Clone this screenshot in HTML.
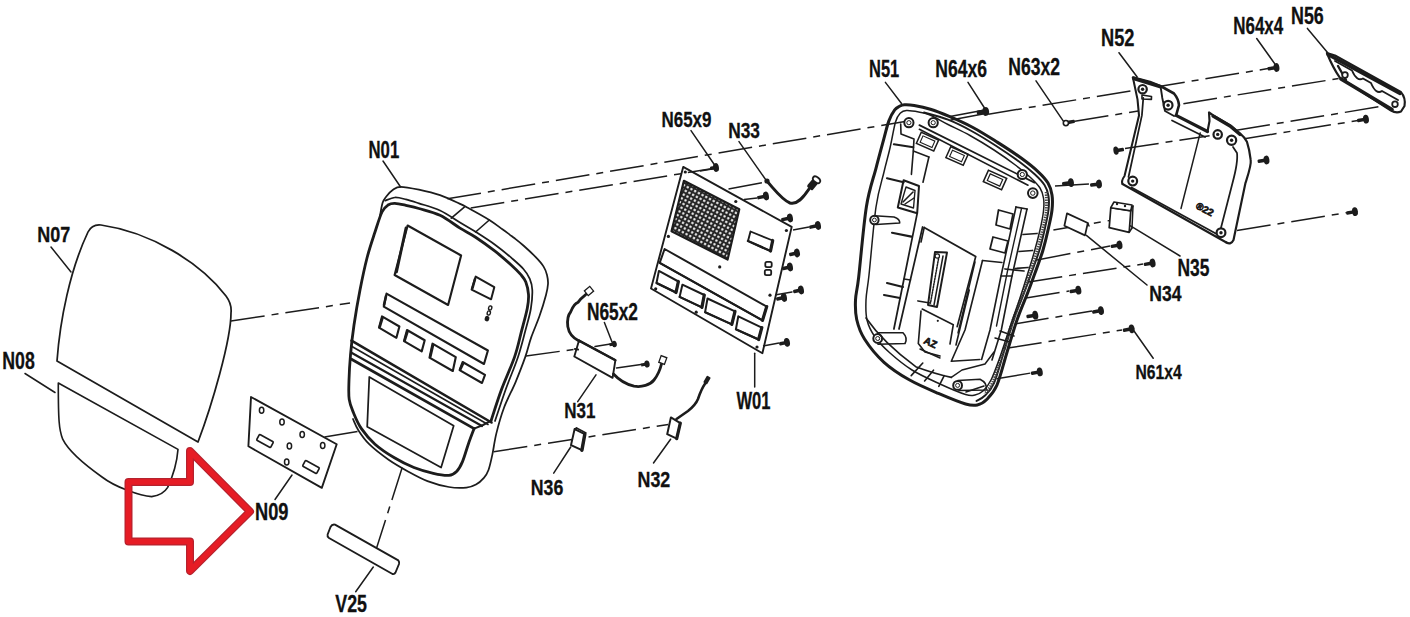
<!DOCTYPE html>
<html><head><meta charset="utf-8"><style>
html,body{margin:0;padding:0;background:#fff;width:1410px;height:617px;overflow:hidden}
svg{display:block}
text{font-family:"Liberation Sans",sans-serif;font-weight:bold;fill:#111;stroke:#111;stroke-width:0.3px}
</style></head><body>
<svg width="1410" height="617" viewBox="0 0 1410 617">
<rect width="1410" height="617" fill="#fff"/>
<path d="M57,361 C60,320 70,270 88,232 Q92,224 101,225 C150,232 200,262 226,296 Q232,304 231,313 C231,340 212,405 198,442 Z" stroke="#1c1c1c" stroke-width="1.75" fill="none" stroke-linejoin="round" stroke-linecap="round" />
<path d="M58.3,383 L178,449.4 C177,462 172,478 167.7,487.3 Q163,495 151.7,496.6 C140,496 115,487 102,477 C85,465 68,450 62.7,439.2 C59,430 58.3,420 58.3,383 Z" stroke="#1c1c1c" stroke-width="1.62" fill="none" stroke-linejoin="round" stroke-linecap="round" />
<path d="M251,397 L336.7,444.2 L321.8,487.9 L248.4,446.3 Z" stroke="#1c1c1c" stroke-width="1.88" fill="none" stroke-linejoin="round"/>
<ellipse cx="261.6" cy="410.3" rx="2.2" ry="3" stroke="#1c1c1c" stroke-width="1.5" fill="none"/>
<ellipse cx="282" cy="422" rx="2.2" ry="3" stroke="#1c1c1c" stroke-width="1.5" fill="none"/>
<ellipse cx="302.2" cy="434.4" rx="2.2" ry="3" stroke="#1c1c1c" stroke-width="1.5" fill="none"/>
<ellipse cx="322.7" cy="445.6" rx="2.2" ry="3" stroke="#1c1c1c" stroke-width="1.5" fill="none"/>
<ellipse cx="289.4" cy="446" rx="2.2" ry="3" stroke="#1c1c1c" stroke-width="1.5" fill="none"/>
<ellipse cx="286.7" cy="462" rx="2.2" ry="3" stroke="#1c1c1c" stroke-width="1.5" fill="none"/>
<rect x="257" y="437.8" width="16" height="6.4" rx="1" transform="rotate(29 265 441)" stroke="#1c1c1c" stroke-width="1.7" fill="none"/>
<rect x="303" y="463.8" width="16" height="6.4" rx="1" transform="rotate(29 311 467)" stroke="#1c1c1c" stroke-width="1.7" fill="none"/>
<path d="M380.0,216.0 C380.4,213.8 381.5,206.0 382.6,202.7 C383.7,199.4 384.8,198.4 386.5,196.2 C388.2,194.0 390.6,191.3 393.0,189.7 C395.4,188.1 396.4,186.8 400.7,186.8 C405.0,186.8 412.3,188.3 418.9,189.7 C425.4,191.1 433.2,192.9 440.0,195.2 C446.8,197.5 454.5,201.3 459.5,203.6 C464.5,205.9 465.0,206.3 470.0,209.0 C475.0,211.7 483.9,216.6 489.3,220.0 C494.7,223.4 499.0,226.8 502.4,229.2 C505.8,231.6 507.6,233.1 509.6,234.6 C511.6,236.1 512.3,236.5 514.6,238.3 C516.9,240.1 519.9,242.4 523.4,245.5 C526.9,248.6 532.1,253.4 535.5,256.9 C538.9,260.4 541.7,263.6 543.6,266.6 C545.5,269.6 546.3,272.1 547.0,275.0 C547.7,277.9 548.2,280.7 548.0,284.0 C547.8,287.3 547.4,289.7 546.0,295.0 C544.6,300.3 542.0,308.9 539.5,316.0 C537.0,323.1 533.6,330.6 531.2,337.4 C528.8,344.2 527.9,349.5 525.3,356.9 C522.7,364.3 519.2,373.3 515.7,381.8 C512.2,390.3 507.2,399.1 504.0,407.7 C500.8,416.3 498.2,425.8 496.3,433.6 C494.4,441.4 493.7,448.3 492.4,454.4 C491.1,460.5 489.9,466.1 488.5,470.0 C487.1,473.9 486.0,475.4 483.9,477.8 C481.8,480.2 478.9,482.9 476.0,484.5 C473.1,486.1 470.9,487.2 466.4,487.6 C461.9,488.0 455.4,488.1 448.9,487.0 C442.4,485.9 434.3,483.7 427.5,481.1 C420.7,478.5 414.5,475.0 408.0,471.4 C401.5,467.8 395.1,464.2 388.6,459.7 C382.1,455.2 374.2,449.1 369.2,444.2 C364.2,439.3 361.2,434.7 358.5,430.5 C355.8,426.3 353.9,420.9 353.0,419.0" stroke="#1c1c1c" stroke-width="1.75" fill="none" stroke-linejoin="round" stroke-linecap="round" />
<path d="M385.2,200.6 C386.8,200.1 391.4,197.7 394.9,197.5 C398.3,197.3 401.9,198.4 405.9,199.4 C409.9,200.4 413.2,201.5 418.9,203.3 C424.6,205.2 433.1,207.3 440.0,210.5 C446.9,213.7 454.1,218.9 460.0,222.5 C465.9,226.1 469.8,228.1 475.6,231.8 C481.4,235.5 489.1,240.4 495.0,244.7 C500.9,249.0 506.5,253.6 511.2,257.7 C515.9,261.8 520.3,265.5 523.4,269.0 C526.5,272.5 528.3,275.3 529.8,278.8 C531.3,282.3 532.1,285.0 532.3,290.0 C532.5,295.0 532.0,302.0 530.8,309.0 C529.6,316.0 527.1,324.0 525.0,332.0 C522.9,340.0 521.2,347.3 518.0,357.0 C514.8,366.7 509.3,379.3 505.5,390.0 C501.7,400.7 496.8,415.8 495.0,421.0" stroke="#1c1c1c" stroke-width="1.75" fill="none" stroke-linejoin="round" stroke-linecap="round" />
<path d="M491.1,420.7 C492.8,415.5 497.6,400.2 501.5,389.6 C505.4,379.0 511.3,366.6 514.6,356.9 C517.9,347.2 519.3,339.7 521.4,331.6 C523.5,323.5 526.1,314.4 527.3,308.2 C528.5,302.0 528.8,298.9 528.5,294.5 C528.2,290.1 527.1,285.3 525.8,282.0 C524.5,278.7 523.3,277.5 520.9,274.7 C518.5,271.9 515.5,268.9 511.2,265.0 C506.9,261.1 500.9,255.8 495.0,251.2 C489.1,246.6 481.4,241.0 475.6,237.2 C469.8,233.3 465.9,231.8 460.0,228.1 C454.1,224.4 446.9,218.6 440.0,215.3 C433.1,212.0 424.6,210.2 418.9,208.5 C413.2,206.8 409.9,206.2 405.9,205.3 C401.9,204.4 397.9,203.4 394.9,203.3 C391.9,203.2 390.1,203.6 388.0,205.0 C385.9,206.4 384.2,207.5 382.0,212.0 C379.8,216.5 377.5,224.3 375.0,232.0 C372.5,239.7 369.5,248.3 367.0,258.0 C364.5,267.7 362.2,278.8 360.0,290.0 C357.8,301.2 355.6,314.2 354.0,325.0 C352.4,335.8 351.3,345.8 350.5,355.0 C349.7,364.2 349.2,372.6 349.0,380.0 C348.8,387.4 348.4,393.9 349.2,399.4 C350.0,404.9 351.6,408.1 353.6,413.0 C355.6,417.9 357.8,423.4 361.4,428.6 C365.0,433.8 369.5,439.3 375.0,444.2 C380.5,449.1 387.9,453.9 394.4,457.8 C400.9,461.7 407.4,464.9 413.9,467.5 C420.4,470.1 427.5,472.0 433.3,473.3 C439.1,474.6 445.0,475.6 448.9,475.3 C452.8,475.0 454.3,473.7 456.6,471.4 C458.9,469.1 460.6,466.1 462.5,461.6 C464.4,457.1 466.4,449.7 468.3,444.2 C470.2,438.7 473.1,431.2 474.1,428.6" stroke="#1c1c1c" stroke-width="2.81" fill="none" stroke-linejoin="round" stroke-linecap="round" />
<line x1="464.3" y1="207.2" x2="451.3" y2="218.2" stroke="#1c1c1c" stroke-width="1.62" stroke-linecap="round"/>
<line x1="489.3" y1="220" x2="475.6" y2="232" stroke="#1c1c1c" stroke-width="1.62" stroke-linecap="round"/>
<path d="M407.6,225.5 L461.1,255.5 L448.1,305 L394.6,275 Z" stroke="#1c1c1c" stroke-width="2.12" fill="none" stroke-linejoin="round"/>
<line x1="406" y1="228" x2="396.5" y2="272" stroke="#1c1c1c" stroke-width="2.81" stroke-linecap="round"/>
<path d="M475.7,276.6 L494.3,287.2 L491.1,299.3 L471.6,289.6 Z" stroke="#1c1c1c" stroke-width="2.0" fill="none" stroke-linejoin="round"/>
<line x1="475" y1="279" x2="472.5" y2="288" stroke="#1c1c1c" stroke-width="2.59" stroke-linecap="round"/>
<ellipse cx="490.2" cy="308" rx="1.6" ry="2.1" stroke="#1c1c1c" stroke-width="1.4" fill="none" transform="rotate(15 490.2 308)"/>
<ellipse cx="488.8" cy="313" rx="1.6" ry="2.1" stroke="#1c1c1c" stroke-width="1.4" fill="none" transform="rotate(15 488.8 313)"/>
<ellipse cx="487" cy="318.6" rx="1.6" ry="2.1" stroke="#1c1c1c" stroke-width="1.4" fill="#1c1c1c" transform="rotate(15 487 318.6)"/>
<path d="M386.5,293.6 L487.9,350.5 L484,364 L383.8,306.7 Z" stroke="#1c1c1c" stroke-width="2.12" fill="none" stroke-linejoin="round"/>
<line x1="386" y1="296" x2="384" y2="305" stroke="#1c1c1c" stroke-width="2.59" stroke-linecap="round"/>
<path d="M382,316.4 L399.4,326.52 L396.4,337.8 L379,327.68 Z" stroke="#1c1c1c" stroke-width="2.12" fill="none" stroke-linejoin="round"/>
<line x1="382.5" y1="317.9" x2="379.8" y2="326.68" stroke="#1c1c1c" stroke-width="2.59" stroke-linecap="round"/>
<path d="M407,330 L424.7,340.28499999999997 L421.7,351.4 L404,341.115 Z" stroke="#1c1c1c" stroke-width="2.12" fill="none" stroke-linejoin="round"/>
<line x1="407.5" y1="331.5" x2="404.8" y2="340.115" stroke="#1c1c1c" stroke-width="2.59" stroke-linecap="round"/>
<path d="M432.5,343.7 L455.8,357.065 L452.8,371 L429.5,357.635 Z" stroke="#1c1c1c" stroke-width="2.12" fill="none" stroke-linejoin="round"/>
<line x1="433.0" y1="345.2" x2="430.3" y2="356.635" stroke="#1c1c1c" stroke-width="2.59" stroke-linecap="round"/>
<path d="M462.6,362 L485,374.87 L482,383 L459.6,370.13 Z" stroke="#1c1c1c" stroke-width="2.12" fill="none" stroke-linejoin="round"/>
<line x1="463.1" y1="363.5" x2="460.40000000000003" y2="369.13" stroke="#1c1c1c" stroke-width="2.59" stroke-linecap="round"/>
<path d="M351.5,340.7 L491.5,422.5" stroke="#1c1c1c" stroke-width="2.59" fill="none" stroke-linejoin="round" stroke-linecap="round" />
<path d="M351.5,346.2 L488,424.5" stroke="#1c1c1c" stroke-width="1.62" fill="none" stroke-linejoin="round" stroke-linecap="round" />
<path d="M351.5,352.8 L482,426" stroke="#1c1c1c" stroke-width="2.16" fill="none" stroke-linejoin="round" stroke-linecap="round" />
<path d="M351.5,359.2 L474.1,428.6" stroke="#1c1c1c" stroke-width="2.81" fill="none" stroke-linejoin="round" stroke-linecap="round" />
<path d="M474.1,428.6 L483,425 L491.1,420.7" stroke="#1c1c1c" stroke-width="2.0" fill="none" stroke-linejoin="round" stroke-linecap="round" />
<path d="M369.3,377 L453.7,425.7 L441.1,467.5 L367.2,426.7 Z" stroke="#1c1c1c" stroke-width="1.75" fill="none" stroke-linejoin="round"/>
<line x1="231" y1="321" x2="350" y2="303" stroke="#1c1c1c" stroke-width="1.5" stroke-dasharray="34 7 7 7"/>
<line x1="324.5" y1="437" x2="357.5" y2="431.5" stroke="#1c1c1c" stroke-width="1.5" stroke-dasharray="34 7 7 7"/>
<line x1="447.4" y1="198.8" x2="908" y2="121" stroke="#1c1c1c" stroke-width="1.5" stroke-dasharray="34 7 7 7"/>
<line x1="470.7" y1="207.9" x2="716" y2="168" stroke="#1c1c1c" stroke-width="1.5" stroke-dasharray="34 7 7 7"/>
<line x1="526" y1="356" x2="577" y2="349" stroke="#1c1c1c" stroke-width="1.5" stroke-dasharray="34 7 7 7"/>
<line x1="493.7" y1="451.8" x2="668.3" y2="424.4" stroke="#1c1c1c" stroke-width="1.5" stroke-dasharray="34 7 7 7"/>
<line x1="402.2" y1="467.5" x2="375" y2="553" stroke="#1c1c1c" stroke-width="1.5" stroke-dasharray="34 7 7 7"/>
<path d="M335,524.6 L398.3,560.4 Q399.5,562 399,564 L395.5,572.5 Q394.5,574.5 392.5,574 L329,538 Q327,536.5 327.6,534.5 L330.5,527 Q332,524 335,524.6 Z" stroke="#1c1c1c" stroke-width="1.88" fill="#fff" stroke-linejoin="round" stroke-linecap="round" />
<path d="M683.2,166.9 L791.7,226.9 L762.4,353.2 L651,288.5 Z" stroke="#1c1c1c" stroke-width="1.88" fill="none" stroke-linejoin="round"/>
<defs><pattern id="grid" width="4.2" height="4.2" patternUnits="userSpaceOnUse" patternTransform="rotate(28)"><rect width="4.2" height="4.2" fill="#262626"/><circle cx="2.1" cy="2.1" r="1.25" fill="#eeeeee"/></pattern></defs>
<path d="M683.9,180.8 L739.3,209.3 L727.6,259.6 L671.5,231.2 Z" stroke="#1c1c1c" stroke-width="2.16" fill="url(#grid)" stroke-linejoin="round"/>
<path d="M750.5,231.5 L772.7,240.5 L770.5,251 L748,241 Z" stroke="#1c1c1c" stroke-width="1.88" fill="none" stroke-linejoin="round"/>
<line x1="772.7" y1="240.5" x2="770.5" y2="251" stroke="#1c1c1c" stroke-width="3.24" stroke-linecap="round"/>
<line x1="748" y1="241" x2="770.5" y2="251" stroke="#1c1c1c" stroke-width="2.38" stroke-linecap="round"/>
<circle cx="685.3" cy="172" r="1.6" fill="#1c1c1c"/>
<circle cx="735.8" cy="201.5" r="1.6" fill="#1c1c1c"/>
<circle cx="786.4" cy="230.5" r="1.6" fill="#1c1c1c"/>
<circle cx="668.4" cy="236.4" r="1.6" fill="#1c1c1c"/>
<circle cx="719.7" cy="266.9" r="1.6" fill="#1c1c1c"/>
<circle cx="655.7" cy="288.8" r="1.6" fill="#1c1c1c"/>
<circle cx="696.2" cy="312.2" r="1.6" fill="#1c1c1c"/>
<circle cx="757" cy="347" r="1.6" fill="#1c1c1c"/>
<circle cx="770" cy="295.2" r="1.6" fill="#1c1c1c"/>
<path d="M664.6,249 L766.7,306.6 L762.5,320.4 L659.7,262.8 Z" stroke="#1c1c1c" stroke-width="2.0" fill="none" stroke-linejoin="round"/>
<line x1="766.7" y1="306.6" x2="762.5" y2="320.4" stroke="#1c1c1c" stroke-width="3.24" stroke-linecap="round"/>
<line x1="659.7" y1="262.8" x2="762.5" y2="320.4" stroke="#1c1c1c" stroke-width="2.05" stroke-linecap="round"/>
<path d="M658.9,270.9 L678.4,281.5 L676,292.5 L656.5,283 Z" stroke="#1c1c1c" stroke-width="2.0" fill="none" stroke-linejoin="round"/>
<line x1="678.4" y1="281.5" x2="676" y2="292.5" stroke="#1c1c1c" stroke-width="3.24" stroke-linecap="round"/>
<line x1="656.5" y1="283" x2="676" y2="292.5" stroke="#1c1c1c" stroke-width="2.05" stroke-linecap="round"/>
<path d="M682.4,284.7 L704.3,295 L701.9,307.4 L679.6,296.9 Z" stroke="#1c1c1c" stroke-width="2.0" fill="none" stroke-linejoin="round"/>
<line x1="704.3" y1="295" x2="701.9" y2="307.4" stroke="#1c1c1c" stroke-width="3.24" stroke-linecap="round"/>
<line x1="679.6" y1="296.9" x2="701.9" y2="307.4" stroke="#1c1c1c" stroke-width="2.05" stroke-linecap="round"/>
<path d="M707.5,298.5 L735,311.4 L731.8,324.4 L705.1,312.2 Z" stroke="#1c1c1c" stroke-width="2.0" fill="none" stroke-linejoin="round"/>
<line x1="735" y1="311.4" x2="731.8" y2="324.4" stroke="#1c1c1c" stroke-width="3.24" stroke-linecap="round"/>
<line x1="705.1" y1="312.2" x2="731.8" y2="324.4" stroke="#1c1c1c" stroke-width="2.05" stroke-linecap="round"/>
<path d="M738.3,316.3 L761.8,327.6 L758.6,339.5 L735.9,329.3 Z" stroke="#1c1c1c" stroke-width="2.0" fill="none" stroke-linejoin="round"/>
<line x1="761.8" y1="327.6" x2="758.6" y2="339.5" stroke="#1c1c1c" stroke-width="3.24" stroke-linecap="round"/>
<line x1="735.9" y1="329.3" x2="758.6" y2="339.5" stroke="#1c1c1c" stroke-width="2.05" stroke-linecap="round"/>
<rect x="765.3" y="261.9" width="6.4" height="5.2" rx="1.6" stroke="#1c1c1c" stroke-width="1.8" fill="none"/>
<rect x="764.8" y="269.9" width="6.4" height="5.2" rx="1.6" stroke="#1c1c1c" stroke-width="1.8" fill="none"/>
<path d="M766.4,180.6 C775,190 782,200 790,203 C797,205 803,198 809,189" stroke="#1c1c1c" stroke-width="3.02" fill="none" stroke-linejoin="round" stroke-linecap="round" />
<circle cx="767" cy="181" r="2.6" fill="#1c1c1c"/>
<g transform="translate(813,184) rotate(-50)"><rect x="-6" y="-3.6" width="11" height="7.2" rx="2" fill="#1c1c1c"/><ellipse cx="5.5" cy="0" rx="2.6" ry="4.2" stroke="#1c1c1c" stroke-width="1.8" fill="#fff"/></g>
<path d="M579,340.6 L615.4,360.2 L612.6,377.9 L574.3,356.5 Z" stroke="#1c1c1c" stroke-width="1.88" fill="none" stroke-linejoin="round"/>
<line x1="579" y1="340.6" x2="615.4" y2="360.2" stroke="#1c1c1c" stroke-width="2.38" stroke-linecap="round"/>
<line x1="575" y1="349" x2="578" y2="349.5" stroke="#1c1c1c" stroke-width="2.16" stroke-linecap="round"/>
<path d="M579,341 C573,338 569,334 567.8,326.6 C567,320 568,315 570.6,312 C573,306 576,303 578,302.4 C581,298 584,296 586.5,294" stroke="#1c1c1c" stroke-width="2.81" fill="none" stroke-linejoin="round" stroke-linecap="round" />
<g transform="translate(589,291) rotate(-40)"><rect x="-3.5" y="-3" width="7" height="6" stroke="#1c1c1c" stroke-width="1.3" fill="#fff"/></g>
<path d="M613.5,374 C619,380 627,384.5 634,386.2 C642,387.5 650,385 654,380 C658,375 660,370 661.5,364" stroke="#1c1c1c" stroke-width="2.81" fill="none" stroke-linejoin="round" stroke-linecap="round" />
<g transform="translate(662.8,360) rotate(-70)"><rect x="-3.5" y="-3" width="7" height="6" stroke="#1c1c1c" stroke-width="1.3" fill="#fff"/></g>
<line x1="616.5" y1="368" x2="641" y2="364.6" stroke="#1c1c1c" stroke-width="1.5" stroke-linecap="round"/>
<path d="M574.6,429.1 L584.8,434.2 L581.9,450.2 L571,445.1 Z" stroke="#1c1c1c" stroke-width="2.0" fill="#fff" stroke-linejoin="round"/>
<line x1="584.8" y1="434.2" x2="581.9" y2="450.2" stroke="#1c1c1c" stroke-width="3.46" stroke-linecap="round"/>
<line x1="574.6" y1="429.1" x2="576.5" y2="428" stroke="#1c1c1c" stroke-width="1.5" stroke-linecap="round"/>
<line x1="576.5" y1="428" x2="586" y2="433" stroke="#1c1c1c" stroke-width="1.5" stroke-linecap="round"/>
<path d="M670.9,417.4 L680.3,423.2 L676.7,438.6 L667.2,434.2 Z" stroke="#1c1c1c" stroke-width="2.0" fill="#fff" stroke-linejoin="round"/>
<line x1="680.3" y1="423.2" x2="676.7" y2="438.6" stroke="#1c1c1c" stroke-width="3.24" stroke-linecap="round"/>
<path d="M676.5,419 L688,411 C693,407 696,404 698,399 C700,393 702,388 705.5,383" stroke="#1c1c1c" stroke-width="2.59" fill="none" stroke-linejoin="round" stroke-linecap="round" />
<g transform="translate(707,380) rotate(-60)"><rect x="-4" y="-2.2" width="8" height="4.4" rx="1" fill="#1c1c1c"/></g>
<path d="M904.4,104.7 C906.9,104.6 909.9,104.6 914.2,105.4 C918.5,106.2 924.7,107.5 930.4,109.3 C936.1,111.1 941.5,113.2 948.6,116.2 C955.7,119.2 964.8,123.2 972.9,127.5 C981.0,131.8 989.1,137.0 997.2,142.1 C1005.3,147.2 1014.8,153.4 1021.5,158.3 C1028.2,163.2 1033.3,167.2 1037.7,171.3 C1042.1,175.4 1045.6,179.1 1048.0,183.0 C1050.4,186.9 1051.3,190.5 1052.0,195.0 C1052.7,199.5 1052.6,204.5 1052.0,210.0 C1051.4,215.5 1050.0,221.2 1048.5,228.0 C1047.0,234.8 1045.0,243.2 1042.8,250.7 C1040.5,258.2 1037.5,266.1 1035.0,273.0 C1032.5,279.9 1031.0,284.2 1028.0,292.0 C1025.0,299.8 1020.6,309.7 1017.0,320.0 C1013.4,330.3 1009.8,343.2 1006.5,354.0 C1003.2,364.8 1000.2,377.5 997.0,385.0 C993.8,392.5 990.3,395.9 987.0,399.2 C983.7,402.5 980.9,404.2 977.3,405.0 C973.7,405.8 972.1,405.9 965.6,404.0 C959.1,402.1 947.8,397.4 938.4,393.4 C929.0,389.4 918.3,385.0 909.2,379.8 C900.1,374.6 891.5,369.1 884.0,362.3 C876.5,355.5 869.0,346.1 864.5,339.0 C860.0,331.9 858.2,326.0 856.7,319.5 C855.2,313.0 855.2,307.1 855.5,300.0 C855.8,292.9 856.9,292.6 858.7,277.0 C860.5,261.4 863.5,224.9 866.4,206.7 C869.3,188.5 873.2,179.2 876.1,167.8 C879.0,156.5 881.8,146.4 883.9,138.6 C886.0,130.8 887.1,125.7 888.9,120.9 C890.7,116.1 892.9,112.3 894.7,109.9 C896.5,107.5 897.9,107.2 899.5,106.3 C901.1,105.4 901.9,104.8 904.4,104.7 Z" stroke="#1c1c1c" stroke-width="3.02" fill="none" stroke-linejoin="round" stroke-linecap="round" />
<path d="M924.0,112.5 C928.0,113.7 940.1,116.6 948.0,119.7 C955.9,122.8 963.6,126.7 971.5,131.0 C979.4,135.3 987.6,140.4 995.5,145.5 C1003.4,150.6 1012.4,156.7 1019.0,161.5 C1025.6,166.3 1030.8,170.6 1035.0,174.5 C1039.2,178.4 1042.2,181.4 1044.5,185.0 C1046.8,188.6 1047.8,191.8 1048.5,196.0 C1049.2,200.2 1049.1,204.7 1048.5,210.0 C1047.9,215.3 1046.5,221.3 1045.0,228.0 C1043.5,234.7 1041.7,242.7 1039.5,250.0 C1037.3,257.3 1034.2,265.2 1031.8,272.0 C1029.3,278.8 1027.8,283.2 1024.8,291.0 C1021.8,298.8 1017.5,308.7 1014.0,319.0 C1010.5,329.3 1006.8,342.3 1003.5,353.0 C1000.2,363.7 997.1,375.9 994.0,383.0 C990.9,390.1 987.9,392.5 985.0,395.5 C982.1,398.5 977.9,400.1 976.5,401.0" stroke="#1c1c1c" stroke-width="1.94" fill="none" stroke-linejoin="round" stroke-linecap="round" />
<path d="M1046.3,192.0 C1046.3,195.0 1047.0,203.8 1046.5,210.0 C1046.0,216.2 1044.5,222.2 1043.0,229.0 C1041.5,235.8 1039.4,243.5 1037.2,251.0 C1035.0,258.5 1032.4,266.9 1030.0,274.0 C1027.6,281.1 1025.9,285.5 1023.0,293.5 C1020.1,301.5 1015.9,311.9 1012.5,322.0 C1009.1,332.1 1005.8,344.0 1002.5,354.0 C999.2,364.0 995.9,375.3 993.0,382.0 C990.1,388.7 986.3,392.0 985.0,394.0" stroke="#444" stroke-width="3.2" fill="none" stroke-dasharray="1.4 1.1"/>
<path d="M906.4,110.5 C909.4,110.3 914.8,111.2 918.7,112.0 C922.6,112.8 925.1,112.9 930.0,115.0 C934.9,117.1 941.3,121.1 948.0,124.5 C954.7,127.9 962.3,131.2 970.0,135.5 C977.7,139.8 986.3,145.0 994.0,150.0 C1001.7,155.0 1009.8,160.8 1016.0,165.5 C1022.2,170.2 1027.0,174.2 1031.0,178.0 C1035.0,181.8 1037.9,184.7 1040.0,188.0 C1042.1,191.3 1042.9,194.2 1043.5,198.0 C1044.1,201.8 1044.1,205.7 1043.5,211.0 C1042.9,216.3 1041.6,223.0 1040.0,230.0 C1038.4,237.0 1036.2,245.3 1034.0,253.0 C1031.8,260.7 1029.3,268.5 1027.0,276.0 C1024.7,283.5 1022.8,289.5 1020.0,298.0 C1017.2,306.5 1013.3,317.2 1010.0,327.0 C1006.7,336.8 1003.2,348.2 1000.0,357.0 C996.8,365.8 993.8,374.3 991.0,380.0 C988.2,385.7 985.7,388.5 983.0,391.0 C980.3,393.5 977.9,394.4 975.0,395.0 C972.1,395.6 971.4,396.3 965.6,394.5 C959.8,392.7 948.9,388.1 940.0,384.0 C931.1,379.9 920.3,375.2 912.0,370.0 C903.7,364.8 896.2,358.5 890.0,353.0 C883.8,347.5 878.8,342.5 875.0,337.0 C871.2,331.5 868.5,326.2 867.0,320.0 C865.5,313.8 865.7,307.5 866.0,300.0 C866.3,292.5 867.3,290.5 869.0,275.0 C870.7,259.5 873.5,224.2 876.0,207.0 C878.5,189.8 881.7,181.8 884.0,172.0 C886.3,162.2 888.1,156.3 890.0,148.0 C891.9,139.7 893.8,127.8 895.5,122.0 C897.2,116.2 898.7,114.9 900.5,113.0 C902.3,111.1 903.4,110.7 906.4,110.5 Z" stroke="#1c1c1c" stroke-width="1.5" fill="none" stroke-linejoin="round" stroke-linecap="round" />
<path d="M919.4,125.1 L1034.5,182.6" stroke="#1c1c1c" stroke-width="1.75" fill="none" stroke-linejoin="round" stroke-linecap="round" />
<path d="M919.4,129.3 L1028,185.2" stroke="#1c1c1c" stroke-width="1.62" fill="none" stroke-linejoin="round" stroke-linecap="round" />
<circle cx="908.9" cy="122.7" r="4.6" stroke="#1c1c1c" stroke-width="2" fill="#fff"/>
<circle cx="908.9" cy="122.7" r="2.1" stroke="#1c1c1c" stroke-width="1" fill="none"/>
<circle cx="933.2" cy="122.7" r="4.6" stroke="#1c1c1c" stroke-width="2" fill="#fff"/>
<circle cx="933.2" cy="122.7" r="2.1" stroke="#1c1c1c" stroke-width="1" fill="none"/>
<circle cx="1022.3" cy="174.5" r="4.6" stroke="#1c1c1c" stroke-width="2" fill="#fff"/>
<circle cx="1022.3" cy="174.5" r="2.1" stroke="#1c1c1c" stroke-width="1" fill="none"/>
<circle cx="1032.8" cy="193.1" r="4.8" stroke="#1c1c1c" stroke-width="2" fill="#fff"/>
<circle cx="1032.8" cy="193.1" r="2.2" stroke="#1c1c1c" stroke-width="1" fill="none"/>
<circle cx="874.4" cy="220" r="4.2" stroke="#1c1c1c" stroke-width="2" fill="#fff"/>
<circle cx="874.4" cy="220" r="1.9" stroke="#1c1c1c" stroke-width="1" fill="none"/>
<circle cx="877.7" cy="338.5" r="4.4" stroke="#1c1c1c" stroke-width="2" fill="#fff"/>
<circle cx="877.7" cy="338.5" r="2.0" stroke="#1c1c1c" stroke-width="1" fill="none"/>
<circle cx="957.6" cy="385.4" r="4.4" stroke="#1c1c1c" stroke-width="2" fill="#fff"/>
<circle cx="957.6" cy="385.4" r="2.0" stroke="#1c1c1c" stroke-width="1" fill="none"/>
<path d="M874.4,215.8 L894,217 Q900,219 899.7,223 L876,224.5" stroke="#1c1c1c" stroke-width="1.62" fill="none" stroke-linejoin="round" stroke-linecap="round" />
<path d="M877.7,332.8 L903,332.8 Q908,338 905,343.5 L878,344.3" stroke="#1c1c1c" stroke-width="1.62" fill="none" stroke-linejoin="round" stroke-linecap="round" />
<path d="M958,380.5 L980,379.2 Q988,383 986,390 L959,390.5" stroke="#1c1c1c" stroke-width="1.62" fill="none" stroke-linejoin="round" stroke-linecap="round" />
<path d="M966,392 L984,386" stroke="#1c1c1c" stroke-width="1.5" fill="none" stroke-linejoin="round" stroke-linecap="round" />
<g transform="translate(927.5,141.7) rotate(24) scale(1.0)"><rect x="-9.5" y="-6" width="19" height="12" stroke="#1c1c1c" stroke-width="1.5" fill="none"/><rect x="-6.5" y="-3.5" width="13" height="7" stroke="#1c1c1c" stroke-width="1.1" fill="none"/></g>
<g transform="translate(957,156) rotate(24) scale(1.0)"><rect x="-9.5" y="-6" width="19" height="12" stroke="#1c1c1c" stroke-width="1.5" fill="none"/><rect x="-6.5" y="-3.5" width="13" height="7" stroke="#1c1c1c" stroke-width="1.1" fill="none"/></g>
<g transform="translate(995,180) rotate(24) scale(1.05)"><rect x="-9.5" y="-6" width="19" height="12" stroke="#1c1c1c" stroke-width="1.5" fill="none"/><rect x="-6.5" y="-3.5" width="13" height="7" stroke="#1c1c1c" stroke-width="1.1" fill="none"/></g>
<path d="M900.7,124 L901,134 L914,139 L913.3,151 L911.4,174.4" stroke="#1c1c1c" stroke-width="1.62" fill="none" stroke-linejoin="round" stroke-linecap="round" />
<path d="M928.9,157 L923,182.2" stroke="#1c1c1c" stroke-width="1.62" fill="none" stroke-linejoin="round" stroke-linecap="round" />
<path d="M913.3,151 L928.9,157" stroke="#1c1c1c" stroke-width="1.5" fill="none" stroke-linejoin="round" stroke-linecap="round" />
<path d="M903.6,180.3 L919,186 L917.2,213.3 L897.8,207.5 Z" stroke="#1c1c1c" stroke-width="2.0" fill="none" stroke-linejoin="round"/>
<path d="M906,187 L915,190.5 L913.5,208 L901,204 Z" stroke="#1c1c1c" stroke-width="1.38" fill="none" stroke-linejoin="round"/>
<line x1="903" y1="202" x2="913" y2="192" stroke="#1c1c1c" stroke-width="1.62" stroke-linecap="round"/>
<line x1="905" y1="204" x2="914" y2="198" stroke="#1c1c1c" stroke-width="1.5" stroke-linecap="round"/>
<line x1="893.9" y1="144.3" x2="913.3" y2="147.2" stroke="#1c1c1c" stroke-width="2.12" stroke-linecap="round"/>
<line x1="887" y1="178.3" x2="903.6" y2="182.2" stroke="#1c1c1c" stroke-width="2.12" stroke-linecap="round"/>
<line x1="892" y1="232.7" x2="911.4" y2="236.6" stroke="#1c1c1c" stroke-width="2.12" stroke-linecap="round"/>
<line x1="887" y1="283" x2="903" y2="287" stroke="#1c1c1c" stroke-width="2.12" stroke-linecap="round"/>
<line x1="884" y1="295" x2="900" y2="298" stroke="#1c1c1c" stroke-width="2.12" stroke-linecap="round"/>
<path d="M917.2,213.3 L893.9,329" stroke="#1c1c1c" stroke-width="1.75" fill="none" stroke-linejoin="round" stroke-linecap="round" />
<path d="M922.6,227 L899,329" stroke="#1c1c1c" stroke-width="1.75" fill="none" stroke-linejoin="round" stroke-linecap="round" />
<path d="M904,279 L910.5,280" stroke="#1c1c1c" stroke-width="1.5" fill="none" stroke-linejoin="round" stroke-linecap="round" />
<path d="M924.2,227.5 L975.7,256.6 L957.2,326.6" stroke="#1c1c1c" stroke-width="1.75" fill="none" stroke-linejoin="round" stroke-linecap="round" />
<path d="M924.2,227.5 L921,242" stroke="#1c1c1c" stroke-width="1.62" fill="none" stroke-linejoin="round" stroke-linecap="round" />
<path d="M935,252 L947,252.5 L937,307 L928,305 Z" stroke="#1c1c1c" stroke-width="1.94" fill="#fff" stroke-linejoin="round" stroke-linecap="round" />
<path d="M939,256 L930.5,303" stroke="#1c1c1c" stroke-width="1.5" fill="none" stroke-linejoin="round" stroke-linecap="round" stroke-dasharray="1.6 1.2"/>
<path d="M943,256 L934,305" stroke="#1c1c1c" stroke-width="1.5" fill="none" stroke-linejoin="round" stroke-linecap="round" />
<circle cx="937.3" cy="256" r="2.2" stroke="#1c1c1c" stroke-width="1.2" fill="#fff"/>
<line x1="918" y1="301" x2="930" y2="303" stroke="#1c1c1c" stroke-width="1.75" stroke-linecap="round"/>
<path d="M922.2,309 L953.3,324.7 L950,344" stroke="#1c1c1c" stroke-width="1.62" fill="none" stroke-linejoin="round" stroke-linecap="round" />
<circle cx="937.8" cy="320.8" r="1.1" fill="#1c1c1c"/>
<path d="M921,311 L918.3,343.5 L925,352 L940,356" stroke="#1c1c1c" stroke-width="1.62" fill="none" stroke-linejoin="round" stroke-linecap="round" />
<text x="923" y="343" font-size="10" font-weight="bold" transform="rotate(24 923 343)" style="fill:#111;stroke:#111;stroke-width:0.6px">AZ</text>
<path d="M920,349 L940,358" stroke="#1c1c1c" stroke-width="1.5" fill="none" stroke-linejoin="round" stroke-linecap="round" />
<path d="M982.5,260.5 L1001.9,262.5" stroke="#1c1c1c" stroke-width="1.62" fill="none" stroke-linejoin="round" stroke-linecap="round" />
<path d="M982.5,260.5 L965,330 L951.3,361.3 L979.9,359.5" stroke="#1c1c1c" stroke-width="1.62" fill="none" stroke-linejoin="round" stroke-linecap="round" />
<path d="M969.2,290 L956,345" stroke="#1c1c1c" stroke-width="1.62" fill="none" stroke-linejoin="round" stroke-linecap="round" />
<path d="M975,262 L958,333" stroke="#1c1c1c" stroke-width="1.5" fill="none" stroke-linejoin="round" stroke-linecap="round" />
<path d="M1016,207 L1001,276 L990,330 L981.6,359.5" stroke="#1c1c1c" stroke-width="1.62" fill="none" stroke-linejoin="round" stroke-linecap="round" />
<path d="M1027,209 L1012,276 L1001.3,330 L992,360" stroke="#1c1c1c" stroke-width="1.62" fill="none" stroke-linejoin="round" stroke-linecap="round" />
<path d="M1016,207 L1027,209" stroke="#1c1c1c" stroke-width="1.75" fill="none" stroke-linejoin="round" stroke-linecap="round" />
<path d="M1021.5,208.5 L1007.5,271 L996.5,326" stroke="#1c1c1c" stroke-width="1.38" fill="none" stroke-linejoin="round" stroke-linecap="round" />
<line x1="1023" y1="234.5" x2="1037" y2="233.5" stroke="#1c1c1c" stroke-width="1.75" stroke-linecap="round"/>
<line x1="1019" y1="251.5" x2="1032.5" y2="250.5" stroke="#1c1c1c" stroke-width="1.75" stroke-linecap="round"/>
<line x1="1015" y1="268.5" x2="1028" y2="267.5" stroke="#1c1c1c" stroke-width="1.75" stroke-linecap="round"/>
<path d="M1001,276 L1012,276" stroke="#1c1c1c" stroke-width="1.5" fill="none" stroke-linejoin="round" stroke-linecap="round" />
<path d="M998.5,210 L1013,214 L1010,229 L996,225 Z" stroke="#1c1c1c" stroke-width="1.75" fill="none" stroke-linejoin="round"/>
<path d="M993,237 L1008,241 L1005,253 L990,249 Z" stroke="#1c1c1c" stroke-width="1.75" fill="none" stroke-linejoin="round"/>
<line x1="1005" y1="269" x2="1024" y2="271" stroke="#1c1c1c" stroke-width="1.75" stroke-linecap="round"/>
<line x1="1000" y1="331" x2="1014" y2="336" stroke="#1c1c1c" stroke-width="1.62" stroke-linecap="round"/>
<line x1="995" y1="338" x2="1010" y2="342" stroke="#1c1c1c" stroke-width="1.5" stroke-linecap="round"/>
<path d="M866,318 C880,338 900,355 915.7,366.7 C930,372 945,376 951.3,377.4" stroke="#1c1c1c" stroke-width="1.62" fill="none" stroke-linejoin="round" stroke-linecap="round" />
<path d="M951.3,377.4 L962,370 L985,364 L994,352" stroke="#1c1c1c" stroke-width="1.5" fill="none" stroke-linejoin="round" stroke-linecap="round" />
<line x1="922.8" y1="363" x2="911.2" y2="375.6" stroke="#1c1c1c" stroke-width="1.62" stroke-linecap="round"/>
<line x1="933.5" y1="370.2" x2="924.6" y2="381" stroke="#1c1c1c" stroke-width="1.62" stroke-linecap="round"/>
<line x1="944.2" y1="375.6" x2="938.8" y2="386.3" stroke="#1c1c1c" stroke-width="1.62" stroke-linecap="round"/>
<path d="M950,116.5 L982,110.5 M951,120 L983,114" stroke="#1c1c1c" stroke-width="1.62" fill="none" stroke-linejoin="round" stroke-linecap="round" />
<g transform="translate(716,167.5) rotate(-10)"><rect x="-6" y="-1.75" width="6" height="3.5" rx="1.2" fill="#1c1c1c"/><ellipse cx="0" cy="0" rx="2.9" ry="4.4" fill="#1c1c1c"/></g>
<line x1="700" y1="171" x2="712" y2="169" stroke="#1c1c1c" stroke-width="1.5" stroke-dasharray="34 7 7 7"/>
<line x1="728.5" y1="189" x2="766" y2="182" stroke="#1c1c1c" stroke-width="1.5" stroke-dasharray="34 7 7 7"/>
<g transform="translate(766,196) rotate(-12)"><rect x="-9" y="-1.75" width="9" height="3.5" rx="1.2" fill="#1c1c1c"/><ellipse cx="0" cy="0" rx="2.9" ry="4.4" fill="#1c1c1c"/></g>
<line x1="744" y1="199.6" x2="757" y2="198" stroke="#1c1c1c" stroke-width="1.5" stroke-dasharray="34 7 7 7"/>
<g transform="translate(790,218) rotate(-12)"><rect x="-9" y="-1.75" width="9" height="3.5" rx="1.2" fill="#1c1c1c"/><ellipse cx="0" cy="0" rx="2.9" ry="4.4" fill="#1c1c1c"/></g>
<g transform="translate(818,225.5) rotate(-12)"><rect x="-9" y="-1.75" width="9" height="3.5" rx="1.2" fill="#1c1c1c"/><ellipse cx="0" cy="0" rx="2.9" ry="4.4" fill="#1c1c1c"/></g>
<line x1="793" y1="230" x2="809" y2="227" stroke="#1c1c1c" stroke-width="1.5" stroke-dasharray="34 7 7 7"/>
<g transform="translate(797,253) rotate(-12)"><rect x="-8" y="-1.75" width="8" height="3.5" rx="1.2" fill="#1c1c1c"/><ellipse cx="0" cy="0" rx="2.9" ry="4.4" fill="#1c1c1c"/></g>
<g transform="translate(790,267) rotate(-12)"><rect x="-8" y="-1.75" width="8" height="3.5" rx="1.2" fill="#1c1c1c"/><ellipse cx="0" cy="0" rx="2.9" ry="4.4" fill="#1c1c1c"/></g>
<g transform="translate(801,290) rotate(-12)"><rect x="-8" y="-1.75" width="8" height="3.5" rx="1.2" fill="#1c1c1c"/><ellipse cx="0" cy="0" rx="2.9" ry="4.4" fill="#1c1c1c"/></g>
<g transform="translate(784,297.5) rotate(-12)"><rect x="-8" y="-1.75" width="8" height="3.5" rx="1.2" fill="#1c1c1c"/><ellipse cx="0" cy="0" rx="2.9" ry="4.4" fill="#1c1c1c"/></g>
<line x1="776.2" y1="294.8" x2="792" y2="292" stroke="#1c1c1c" stroke-width="1.5" stroke-linecap="round"/>
<g transform="translate(787,342.4) rotate(-12)"><rect x="-8" y="-1.75" width="8" height="3.5" rx="1.2" fill="#1c1c1c"/><ellipse cx="0" cy="0" rx="2.9" ry="4.4" fill="#1c1c1c"/></g>
<line x1="763" y1="346" x2="779" y2="343" stroke="#1c1c1c" stroke-width="1.5" stroke-dasharray="34 7 7 7"/>
<line x1="595" y1="346.5" x2="612" y2="343.8" stroke="#1c1c1c" stroke-width="1.5" stroke-linecap="round"/>
<g transform="translate(614.4,344) rotate(-10)"><rect x="-5" y="-1.4" width="5" height="2.8" fill="#1c1c1c"/><ellipse cx="0" cy="0" rx="2.4" ry="3.2" fill="#1c1c1c"/></g>
<g transform="translate(647,364) rotate(-10)"><rect x="-6" y="-1.6" width="6" height="3.2" fill="#1c1c1c"/><ellipse cx="0" cy="0" rx="2.6" ry="3.6" fill="#1c1c1c"/></g>
<line x1="988.3" y1="114.2" x2="1268" y2="68.6" stroke="#1c1c1c" stroke-width="1.5" stroke-dasharray="34 7 7 7"/>
<circle cx="1065.9" cy="123.1" r="2.6" stroke="#1c1c1c" stroke-width="1.6" fill="#fff"/>
<g transform="translate(1068,122.4) rotate(-10)"><rect x="0" y="-1.7" width="7" height="3.4" rx="1" fill="#1c1c1c"/></g>
<g transform="translate(985.7,111.5) rotate(-9)"><rect x="-9" y="-2.2" width="9" height="4.4" rx="1.2" fill="#1c1c1c"/><ellipse cx="0" cy="0" rx="3.4" ry="4.4" fill="#1c1c1c"/></g>
<line x1="1074.8" y1="121.3" x2="1338.6" y2="78.5" stroke="#1c1c1c" stroke-width="1.5" stroke-dasharray="34 7 7 7"/>
<g transform="translate(1276.5,67.5) rotate(-9)"><rect x="-9" y="-1.75" width="9" height="3.5" rx="1.2" fill="#1c1c1c"/><ellipse cx="0" cy="0" rx="2.9" ry="4.4" fill="#1c1c1c"/></g>
<line x1="1236.3" y1="130.2" x2="1383.6" y2="106" stroke="#1c1c1c" stroke-width="1.5" stroke-dasharray="34 7 7 7"/>
<line x1="1243" y1="139" x2="1358" y2="120.5" stroke="#1c1c1c" stroke-width="1.5" stroke-dasharray="34 7 7 7"/>
<g transform="translate(1366,119.2) rotate(-9)"><rect x="-9" y="-1.75" width="9" height="3.5" rx="1.2" fill="#1c1c1c"/><ellipse cx="0" cy="0" rx="2.9" ry="4.4" fill="#1c1c1c"/></g>
<g transform="translate(1116,150.6) rotate(171)"><rect x="-8" y="-1.8" width="8" height="3.6" rx="1" fill="#1c1c1c"/><ellipse cx="0" cy="0" rx="2.6" ry="4.2" fill="#1c1c1c"/></g>
<line x1="1125" y1="148.4" x2="1209.6" y2="135.8" stroke="#1c1c1c" stroke-width="1.5" stroke-dasharray="34 7 7 7"/>
<g transform="translate(1266.5,160) rotate(-9)"><rect x="-9" y="-1.75" width="9" height="3.5" rx="1.2" fill="#1c1c1c"/><ellipse cx="0" cy="0" rx="2.9" ry="4.4" fill="#1c1c1c"/></g>
<g transform="translate(1355,211.7) rotate(-9)"><rect x="-9" y="-1.75" width="9" height="3.5" rx="1.2" fill="#1c1c1c"/><ellipse cx="0" cy="0" rx="2.9" ry="4.4" fill="#1c1c1c"/></g>
<line x1="1237" y1="230.6" x2="1346.5" y2="212.7" stroke="#1c1c1c" stroke-width="1.5" stroke-dasharray="34 7 7 7"/>
<g transform="translate(1071,182.6) rotate(-8)"><rect x="-9" y="-1.75" width="9" height="3.5" rx="1.2" fill="#1c1c1c"/><ellipse cx="0" cy="0" rx="2.9" ry="4.4" fill="#1c1c1c"/></g>
<g transform="translate(1099,184) rotate(-8)"><rect x="-9" y="-1.75" width="9" height="3.5" rx="1.2" fill="#1c1c1c"/><ellipse cx="0" cy="0" rx="2.9" ry="4.4" fill="#1c1c1c"/></g>
<line x1="1055" y1="186" x2="1091" y2="184" stroke="#1c1c1c" stroke-width="1.5" stroke-dasharray="34 7 7 7"/>
<line x1="1053.4" y1="230" x2="1111" y2="220.3" stroke="#1c1c1c" stroke-width="1.5" stroke-dasharray="34 7 7 7"/>
<g transform="translate(1119.5,245) rotate(-10)"><rect x="-9" y="-1.75" width="9" height="3.5" rx="1.2" fill="#1c1c1c"/><ellipse cx="0" cy="0" rx="2.9" ry="4.4" fill="#1c1c1c"/></g>
<line x1="1037" y1="260" x2="1110" y2="246" stroke="#1c1c1c" stroke-width="1.5" stroke-dasharray="34 7 7 7"/>
<g transform="translate(1152.6,263) rotate(-10)"><rect x="-9" y="-1.75" width="9" height="3.5" rx="1.2" fill="#1c1c1c"/><ellipse cx="0" cy="0" rx="2.9" ry="4.4" fill="#1c1c1c"/></g>
<line x1="1028.6" y1="282" x2="1143" y2="264" stroke="#1c1c1c" stroke-width="1.5" stroke-dasharray="34 7 7 7"/>
<g transform="translate(1078.4,290.2) rotate(-10)"><rect x="-9" y="-1.75" width="9" height="3.5" rx="1.2" fill="#1c1c1c"/><ellipse cx="0" cy="0" rx="2.9" ry="4.4" fill="#1c1c1c"/></g>
<line x1="1026" y1="298" x2="1069" y2="291" stroke="#1c1c1c" stroke-width="1.5" stroke-dasharray="34 7 7 7"/>
<g transform="translate(1101,310.6) rotate(-10)"><rect x="-9" y="-1.75" width="9" height="3.5" rx="1.2" fill="#1c1c1c"/><ellipse cx="0" cy="0" rx="2.9" ry="4.4" fill="#1c1c1c"/></g>
<line x1="1015" y1="324" x2="1092" y2="311" stroke="#1c1c1c" stroke-width="1.5" stroke-dasharray="34 7 7 7"/>
<g transform="translate(1035.3,315.2) rotate(-10)"><rect x="-9" y="-1.75" width="9" height="3.5" rx="1.2" fill="#1c1c1c"/><ellipse cx="0" cy="0" rx="2.9" ry="4.4" fill="#1c1c1c"/></g>
<g transform="translate(1131.7,328.8) rotate(-10)"><rect x="-9" y="-1.75" width="9" height="3.5" rx="1.2" fill="#1c1c1c"/><ellipse cx="0" cy="0" rx="2.9" ry="4.4" fill="#1c1c1c"/></g>
<line x1="1008" y1="348" x2="1122" y2="330" stroke="#1c1c1c" stroke-width="1.5" stroke-dasharray="34 7 7 7"/>
<g transform="translate(1039.8,371.9) rotate(-10)"><rect x="-9" y="-1.75" width="9" height="3.5" rx="1.2" fill="#1c1c1c"/><ellipse cx="0" cy="0" rx="2.9" ry="4.4" fill="#1c1c1c"/></g>
<line x1="996.7" y1="378.7" x2="1031" y2="373" stroke="#1c1c1c" stroke-width="1.5" stroke-dasharray="34 7 7 7"/>
<path d="M1133,77.5 L1162.3,87 L1174,93.5 Q1178.5,99 1179,105.2 L1176.1,115.4 L1170,117 L1143,114 L1139,114 L1137.5,99.4 Z" fill="#fff" stroke="none"/>
<path d="M1209,112.5 L1230.8,125.6 L1241,134.4 Q1246,139 1247,145 L1236,150 L1226,140 L1208,132 Z" fill="#fff" stroke="none"/>
<path d="M1133,77.5 L1150,82 L1162.3,87 L1174,93.5 Q1178.5,99 1179,105.2 L1176.1,115.4" stroke="#1c1c1c" stroke-width="2.59" fill="none" stroke-linejoin="round" stroke-linecap="round" />
<path d="M1134,78.5 L1160,86.5" stroke="#1c1c1c" stroke-width="3.67" fill="none" stroke-linejoin="round" stroke-linecap="round" />
<path d="M1160.8,88 L1162.3,98 L1165,111 L1174,116" stroke="#1c1c1c" stroke-width="1.88" fill="none" stroke-linejoin="round" stroke-linecap="round" />
<path d="M1133,78 L1137.5,99.4 L1139,115.4 L1124.5,176 Q1121,181 1122.5,184" stroke="#1c1c1c" stroke-width="2.05" fill="none" stroke-linejoin="round" stroke-linecap="round" />
<path d="M1143.3,97.9 L1141.9,115.4 L1128.5,177" stroke="#1c1c1c" stroke-width="1.75" fill="none" stroke-linejoin="round" stroke-linecap="round" />
<path d="M1142,95 L1151.5,96.5 L1151.4,99.4 L1142,99 Z" stroke="#1c1c1c" stroke-width="1.62" fill="none" stroke-linejoin="round"/>
<path d="M1122.5,184 L1226.4,242.5" stroke="#1c1c1c" stroke-width="2.05" fill="none" stroke-linejoin="round" stroke-linecap="round" />
<path d="M1131.6,187.4 L1218.5,235" stroke="#1c1c1c" stroke-width="1.75" fill="none" stroke-linejoin="round" stroke-linecap="round" />
<path d="M1226.4,242.5 Q1231,245 1233.5,240 L1245.4,183.2 C1249,172 1251.5,165 1250.7,160 C1250,154 1249,148 1246.9,141.7 C1245,138 1243,136 1241,134.4 L1230.8,125.6 L1213.3,115.4 L1209,112.5 L1209.5,121 L1207.5,131.5" stroke="#1c1c1c" stroke-width="2.16" fill="none" stroke-linejoin="round" stroke-linecap="round" />
<path d="M1213,116 L1230,126 L1240,134.5" stroke="#1c1c1c" stroke-width="3.24" fill="none" stroke-linejoin="round" stroke-linecap="round" />
<path d="M1219,235.5 L1232.5,183 C1236,170 1238,160 1237,153 L1233,147" stroke="#1c1c1c" stroke-width="1.75" fill="none" stroke-linejoin="round" stroke-linecap="round" />
<path d="M1176.1,115.4 L1207.5,131.5" stroke="#1c1c1c" stroke-width="3.24" fill="none" stroke-linejoin="round" stroke-linecap="round" />
<path d="M1172,120.5 L1205,137" stroke="#1c1c1c" stroke-width="1.75" fill="none" stroke-linejoin="round" stroke-linecap="round" />
<line x1="1200.2" y1="132.9" x2="1181" y2="208.5" stroke="#1c1c1c" stroke-width="1.5" stroke-linecap="round"/>
<circle cx="1142.6" cy="89.2" r="4.2" stroke="#1c1c1c" stroke-width="2.2" fill="#fff"/><circle cx="1142.6" cy="89.2" r="1.7" fill="#1c1c1c"/>
<circle cx="1168.1" cy="105.2" r="4.4" stroke="#1c1c1c" stroke-width="2.2" fill="#fff"/><circle cx="1168.1" cy="105.2" r="1.7" fill="#1c1c1c"/>
<circle cx="1217.7" cy="134.4" r="4.2" stroke="#1c1c1c" stroke-width="2.2" fill="#fff"/><circle cx="1217.7" cy="134.4" r="1.7" fill="#1c1c1c"/>
<circle cx="1231.6" cy="140.2" r="4.6" stroke="#1c1c1c" stroke-width="2.2" fill="#fff"/><circle cx="1231.6" cy="140.2" r="1.7" fill="#1c1c1c"/>
<circle cx="1132.7" cy="181.1" r="4.4" stroke="#1c1c1c" stroke-width="2.2" fill="#fff"/><circle cx="1132.7" cy="181.1" r="1.7" fill="#1c1c1c"/>
<circle cx="1221" cy="232.7" r="4.4" stroke="#1c1c1c" stroke-width="2.2" fill="#fff"/><circle cx="1221" cy="232.7" r="1.7" fill="#1c1c1c"/>
<text x="1195" y="208" font-size="10" font-weight="bold" transform="rotate(28 1195 208)" style="fill:#111;stroke:#111;stroke-width:0.6px">®22</text>
<path d="M1326.9,53 L1335,55.5 L1400.8,91.9 Q1406,98 1404.5,106 L1401,111.5 Q1396,113.5 1391,110.5 L1339.8,77.6 Q1333,68 1326.9,53 Z" stroke="#1c1c1c" stroke-width="2.16" fill="#fff" stroke-linejoin="round" stroke-linecap="round" />
<path d="M1328,54.5 L1400,93.5" stroke="#1c1c1c" stroke-width="3.46" fill="none" stroke-linejoin="round" stroke-linecap="round" />
<path d="M1341,79 L1392,109.5" stroke="#1c1c1c" stroke-width="3.67" fill="none" stroke-linejoin="round" stroke-linecap="round" />
<path d="M1335,61 L1352,70.5 Q1357,82 1363,78.5 L1371,83 Q1376,95 1382,91 L1398,100" stroke="#1c1c1c" stroke-width="1.88" fill="none" stroke-linejoin="round" stroke-linecap="round" />
<path d="M1338,66 L1346,80" stroke="#1c1c1c" stroke-width="2.38" fill="none" stroke-linejoin="round" stroke-linecap="round" />
<circle cx="1345" cy="75" r="2.8" stroke="#1c1c1c" stroke-width="1.8" fill="#fff"/>
<circle cx="1395" cy="104.2" r="2.8" stroke="#1c1c1c" stroke-width="1.8" fill="#fff"/>
<path d="M1067,213.4 L1087.8,223 L1085,235.4 L1064.4,225.8 Z" stroke="#1c1c1c" stroke-width="1.75" fill="#fff" stroke-linejoin="round"/>
<line x1="1087.8" y1="223" x2="1089" y2="226" stroke="#1c1c1c" stroke-width="1.5" stroke-linecap="round"/>
<path d="M1110.8,207.7 L1130.8,210.8 L1129.2,232.3 L1109.2,227.7 Z" stroke="#1c1c1c" stroke-width="1.75" fill="#fff" stroke-linejoin="round"/>
<path d="M1110.8,207.7 L1114,202 L1132,205 L1130.8,210.8 Z" stroke="#1c1c1c" stroke-width="1.62" fill="#fff" stroke-linejoin="round"/>
<line x1="1130.8" y1="210.8" x2="1133" y2="206" stroke="#1c1c1c" stroke-width="1.5" stroke-linecap="round"/>
<line x1="1133" y1="206" x2="1132" y2="228" stroke="#1c1c1c" stroke-width="1.5" stroke-linecap="round"/>
<line x1="1132" y1="228" x2="1129.2" y2="232.3" stroke="#1c1c1c" stroke-width="1.5" stroke-linecap="round"/>
<circle cx="1117" cy="204" r="1.2" fill="#1c1c1c"/><circle cx="1125" cy="206" r="1.2" fill="#1c1c1c"/>
<line x1="51" y1="247" x2="71" y2="272" stroke="#1c1c1c" stroke-width="1.5" stroke-linecap="round"/>
<line x1="25" y1="373.5" x2="55" y2="392.5" stroke="#1c1c1c" stroke-width="1.5" stroke-linecap="round"/>
<line x1="275" y1="499.5" x2="292" y2="475" stroke="#1c1c1c" stroke-width="1.5" stroke-linecap="round"/>
<line x1="383" y1="161" x2="400.6" y2="187" stroke="#1c1c1c" stroke-width="1.5" stroke-linecap="round"/>
<line x1="691" y1="130.6" x2="716" y2="167" stroke="#1c1c1c" stroke-width="1.5" stroke-linecap="round"/>
<line x1="739" y1="141.6" x2="766.4" y2="180.6" stroke="#1c1c1c" stroke-width="1.5" stroke-linecap="round"/>
<line x1="604.4" y1="322.5" x2="613" y2="344.4" stroke="#1c1c1c" stroke-width="1.5" stroke-linecap="round"/>
<line x1="596" y1="374.8" x2="577.7" y2="401.6" stroke="#1c1c1c" stroke-width="1.5" stroke-linecap="round"/>
<line x1="570.7" y1="447" x2="553.7" y2="473.2" stroke="#1c1c1c" stroke-width="1.5" stroke-linecap="round"/>
<line x1="670.6" y1="439.2" x2="653.5" y2="463" stroke="#1c1c1c" stroke-width="1.5" stroke-linecap="round"/>
<line x1="754.7" y1="353.2" x2="754.7" y2="387" stroke="#1c1c1c" stroke-width="1.5" stroke-linecap="round"/>
<line x1="373.3" y1="567" x2="355.7" y2="591.7" stroke="#1c1c1c" stroke-width="1.5" stroke-linecap="round"/>
<line x1="885.4" y1="82.4" x2="901.5" y2="103.5" stroke="#1c1c1c" stroke-width="1.5" stroke-linecap="round"/>
<line x1="968" y1="82.4" x2="985.8" y2="110" stroke="#1c1c1c" stroke-width="1.5" stroke-linecap="round"/>
<line x1="1036" y1="80.8" x2="1063.5" y2="121.3" stroke="#1c1c1c" stroke-width="1.5" stroke-linecap="round"/>
<line x1="1119" y1="52.7" x2="1137.2" y2="77" stroke="#1c1c1c" stroke-width="1.5" stroke-linecap="round"/>
<line x1="1256.7" y1="38.5" x2="1277" y2="66.9" stroke="#1c1c1c" stroke-width="1.5" stroke-linecap="round"/>
<line x1="1307.4" y1="28.4" x2="1327.7" y2="52.7" stroke="#1c1c1c" stroke-width="1.5" stroke-linecap="round"/>
<line x1="1130.5" y1="225.8" x2="1180" y2="256" stroke="#1c1c1c" stroke-width="1.5" stroke-linecap="round"/>
<line x1="1086.4" y1="235.4" x2="1147" y2="285" stroke="#1c1c1c" stroke-width="1.5" stroke-linecap="round"/>
<line x1="1134" y1="331" x2="1153.2" y2="358.3" stroke="#1c1c1c" stroke-width="1.5" stroke-linecap="round"/>
<path d="M128.5,482 L190,482 L190,451 L250,511.5 L190,571 L190,541.5 L128.5,541.5 Z" stroke="#b5222e" stroke-width="8" fill="none" stroke-linejoin="round"/>
<path d="M128.5,482 L190,482 L190,451 L250,511.5 L190,571 L190,541.5 L128.5,541.5 Z" stroke="#e61c25" stroke-width="5.6" fill="none" stroke-linejoin="round"/>
<text x="37.25" y="242.0" font-size="22.7" textLength="33.0" lengthAdjust="spacingAndGlyphs">N07</text>
<text x="2.25" y="368.75" font-size="23.7" textLength="32.5" lengthAdjust="spacingAndGlyphs">N08</text>
<text x="255.0" y="520.0" font-size="24.1" textLength="33.5" lengthAdjust="spacingAndGlyphs">N09</text>
<text x="368.5" y="157.5" font-size="23.7" textLength="30.75" lengthAdjust="spacingAndGlyphs">N01</text>
<text x="661.5" y="126.5" font-size="22.7" textLength="50.0" lengthAdjust="spacingAndGlyphs">N65x9</text>
<text x="728.25" y="137.75" font-size="22.0" textLength="31.75" lengthAdjust="spacingAndGlyphs">N33</text>
<text x="587.0" y="319.5" font-size="23.4" textLength="51.0" lengthAdjust="spacingAndGlyphs">N65x2</text>
<text x="564.25" y="417.75" font-size="22.7" textLength="31.25" lengthAdjust="spacingAndGlyphs">N31</text>
<text x="530.75" y="495.0" font-size="22.0" textLength="32.5" lengthAdjust="spacingAndGlyphs">N36</text>
<text x="637.5" y="487.0" font-size="22.3" textLength="32.75" lengthAdjust="spacingAndGlyphs">N32</text>
<text x="736.5" y="408.5" font-size="23.4" textLength="34.0" lengthAdjust="spacingAndGlyphs">W01</text>
<text x="335.25" y="611.75" font-size="23.7" textLength="31.75" lengthAdjust="spacingAndGlyphs">V25</text>
<text x="869.0" y="76.5" font-size="23.4" textLength="30.25" lengthAdjust="spacingAndGlyphs">N51</text>
<text x="935.25" y="77.25" font-size="23.0" textLength="51.75" lengthAdjust="spacingAndGlyphs">N64x6</text>
<text x="1008.25" y="74.5" font-size="23.0" textLength="51.75" lengthAdjust="spacingAndGlyphs">N63x2</text>
<text x="1101.0" y="46.25" font-size="23.4" textLength="33.5" lengthAdjust="spacingAndGlyphs">N52</text>
<text x="1233.25" y="34.0" font-size="23.0" textLength="50.0" lengthAdjust="spacingAndGlyphs">N64x4</text>
<text x="1291.0" y="23.5" font-size="23.0" textLength="32.75" lengthAdjust="spacingAndGlyphs">N56</text>
<text x="1177.5" y="275.5" font-size="23.4" textLength="32.0" lengthAdjust="spacingAndGlyphs">N35</text>
<text x="1149.25" y="301.25" font-size="22.7" textLength="32.25" lengthAdjust="spacingAndGlyphs">N34</text>
<text x="1135.5" y="379.0" font-size="20.6" textLength="46.25" lengthAdjust="spacingAndGlyphs">N61x4</text>
</svg></body></html>
